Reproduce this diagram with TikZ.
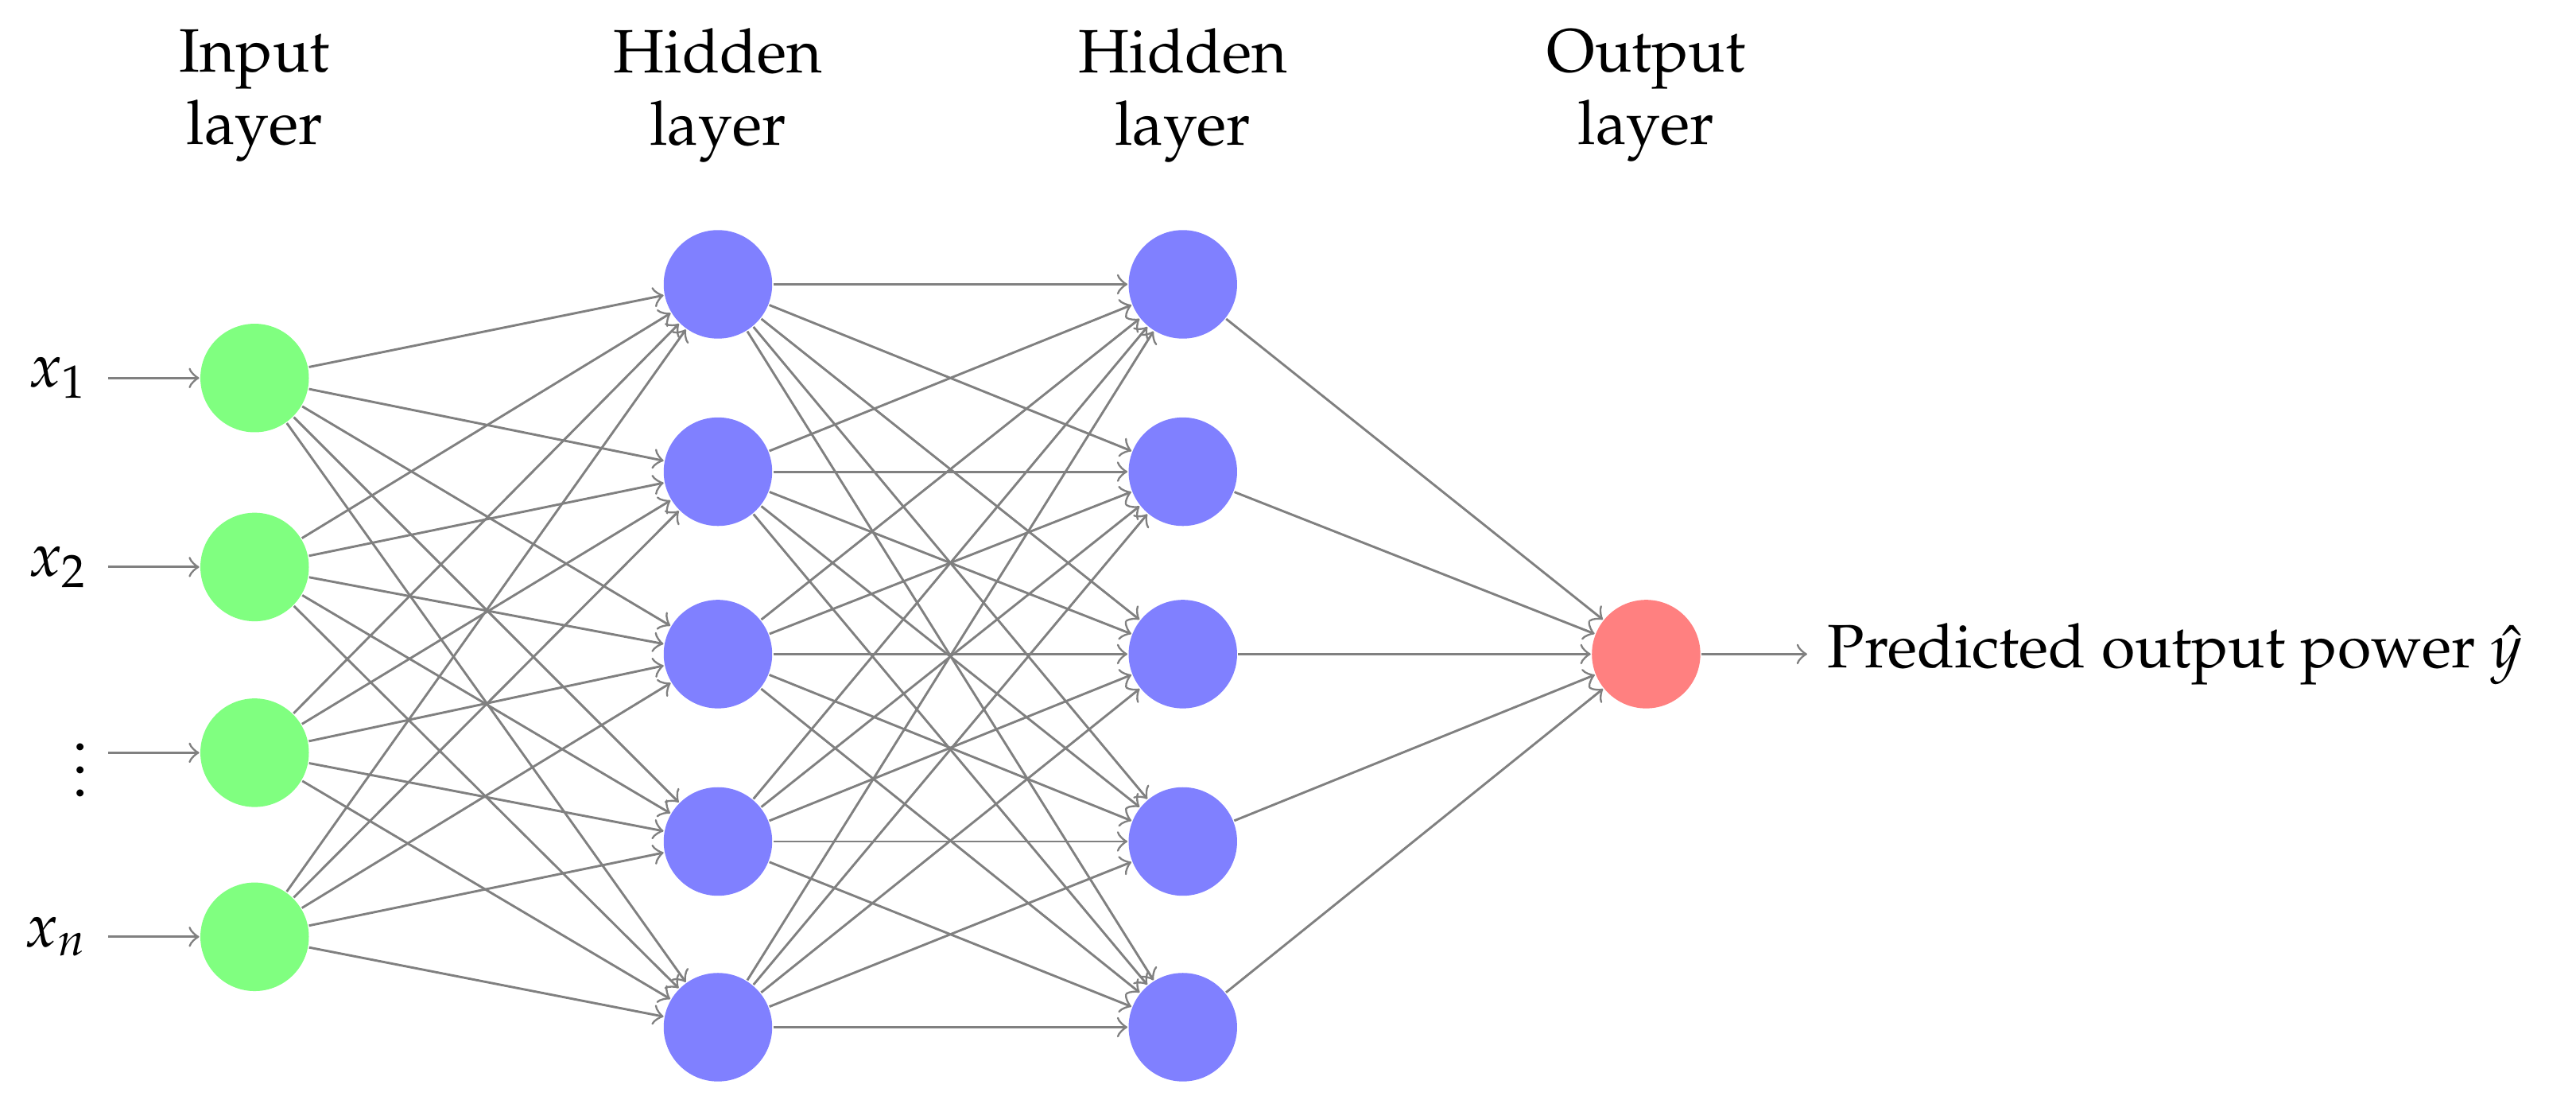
\documentclass[tikz,border=0pt]{standalone}
\usepackage[T1]{fontenc}
\usepackage{mathpazo}
\usetikzlibrary{positioning,calc}

\begin{document}
\begin{tikzpicture}[x=0.01cm, y=-0.01cm, >=to,
    neuron/.style={circle, minimum size=0.66cm, inner sep=0pt},
    inp/.style={neuron, fill=green!50},
    hid/.style={neuron, fill=blue!50},
    outp/.style={neuron, fill=red!50},
    edge/.style={->, draw=black!50, thin},
    txt/.style={font=\fontsize{10.6}{12.5}\selectfont}]
        \useasboundingbox (0,0) rectangle (1568,669);

        % input layer
        \foreach \y/\n in {230/1, 345/2, 458/3, 570/4}
            \node[inp] (I\n) at (155,\y) {};
        \node[txt, anchor=east] (x1) at (66,230) {$x_1$};
        \node[txt, anchor=east] (x2) at (66,345) {$x_2$};
        \node[txt, anchor=east] (x3) at (66,458) {$\vdots$};
        \node[txt, anchor=east] (x4) at (66,570) {$x_n$};

        % hidden layers
        \foreach \y/\n in {173/1, 287/2, 398/3, 512/4, 625/5} {
            \node[hid] (H\n) at (437,\y) {};
            \node[hid] (G\n) at (720,\y) {};
        }

        % output layer
        \node[outp] (O) at (1002,398) {};
        \node[txt, anchor=west] (y) at (1100,398) {Predicted output power $\hat{y}$};

        % connections
        \foreach \i in {1,...,4} {
            \draw[edge] (x\i) -- (I\i);
            \foreach \j in {1,...,5}
                \draw[edge] (I\i) -- (H\j);
        }
        \foreach \i in {1,...,5} {
            \foreach \j in {1,...,5}
                \draw[edge] (H\i) -- (G\j);
            \draw[edge] (G\i) -- (O);
        }
        \draw[edge] (O) -- (y);

        % layer titles
        \foreach \x/\t in {155/Input, 437/Hidden, 720/Hidden, 1002/Output}
            \node[txt, align=center] at (\x,58) {\t\\layer};
    \end{tikzpicture}
\end{document}
